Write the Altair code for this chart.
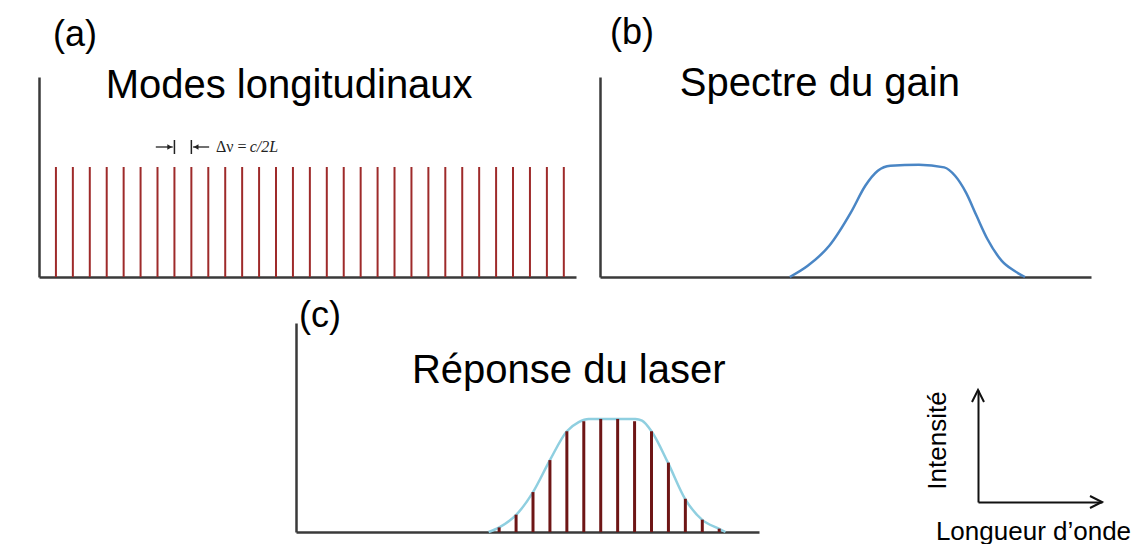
import altair as alt
import pandas as pd

FONT = "Liberation Sans"

# ---------- data ----------
# (a) longitudinal modes: position (mode spacing units) and intensity
modes_a_x = [1, 2, 3, 4, 5, 6, 7, 8, 9, 10, 11, 12, 13, 14, 15, 16,
             17, 18, 19, 20, 21, 22, 23, 24, 25, 26, 27, 28, 29, 30, 31]
modes_a_h = [0.55, 0.55, 0.55, 0.55, 0.55, 0.55, 0.55, 0.55, 0.55, 0.55,
             0.55, 0.55, 0.55, 0.55, 0.55, 0.55, 0.55, 0.55, 0.55, 0.55,
             0.55, 0.55, 0.55, 0.55, 0.55, 0.55, 0.55, 0.55, 0.55, 0.55, 0.55]

# (b) gain spectrum
gain_x = [11.21, 12.27, 13.54, 14.82, 15.67, 16.41, 17.15, 18.84,
          20.33, 20.97, 21.61, 22.24, 22.88, 23.73, 24.47, 25.10]
gain_y = [0.0, 0.056, 0.156, 0.323, 0.456, 0.531, 0.556, 0.561,
          0.548, 0.506, 0.423, 0.306, 0.190, 0.081, 0.031, 0.0]

# (c) laser response: modes under the gain envelope
laser_x = [12, 13, 14, 15, 16, 17, 18, 19, 20, 21, 22, 23, 24, 25]
laser_h = [0.022, 0.083, 0.191, 0.344, 0.482, 0.530, 0.541,
           0.541, 0.530, 0.482, 0.332, 0.159, 0.059, 0.016]
env_x = [11.38, 12.01, 13.02, 14.0, 15.0, 16.0, 16.70, 17.29,
         20.05, 20.44, 21.0, 21.97, 22.98, 23.98, 24.97, 25.37]
env_y = [0.0, 0.0225, 0.083, 0.191, 0.344, 0.482, 0.526, 0.541,
         0.541, 0.533, 0.482, 0.332, 0.159, 0.059, 0.016, 0.0]

panel_labels = ["(a)", "(b)", "(c)"]
panel_titles = ["Modes longitudinaux", "Spectre du gain", "Réponse du laser"]
legend_titles = ["Intensité", "Longueur d’onde"]

# ---------- helpers ----------
AX = alt.Axis(domain=True, labels=False, ticks=False, grid=False, title=None,
              domainColor="#3a3a3a", domainWidth=2.5)
TFS = 40
LFS = 36


def xs(maxv):
    return alt.X("x:Q", scale=alt.Scale(domain=[0, maxv], nice=False, zero=False), axis=AX)


def ys():
    return alt.Y("y:Q", scale=alt.Scale(domain=[0, 1], nice=False), axis=AX)


def spacer(w, h):
    return alt.Chart(pd.DataFrame({"t": [""]})).mark_text().encode(
        text="t:N").properties(width=w, height=h)


def ttl(label, dx, offset):
    return alt.TitleParams(label, anchor="start", dx=dx, offset=offset, fontSize=LFS,
                           font=FONT, fontWeight="normal", color="black",
                           baseline="alphabetic")


# ---------- panel (a) ----------
XA = 31.72
da = pd.DataFrame({"x": modes_a_x, "y": modes_a_h, "y0": [0] * len(modes_a_x)})
a_lines = alt.Chart(da).mark_rule(color="#9e2a2a", strokeWidth=2).encode(
    x=xs(XA), y=ys(), y2="y0:Q")
a_text = alt.Chart(pd.DataFrame({"x": [3.94], "y": [0.893], "t": [panel_titles[0]]})).mark_text(
    align="left", baseline="alphabetic", fontSize=TFS, font=FONT, color="black").encode(
    x=xs(XA), y=ys(), text="t:N")
# delta-nu annotation
mark_df = pd.DataFrame({"x": [8, 9], "y": [0.685, 0.685], "y2": [0.615, 0.615]})
a_marks = alt.Chart(mark_df).mark_rule(color="#222", strokeWidth=1.5).encode(
    x=xs(XA), y=ys(), y2="y2:Q")
shaft_df = pd.DataFrame({"x": [6.9, 9.1], "x2": [7.9, 10.05], "y": [0.65, 0.65]})
a_shafts = alt.Chart(shaft_df).mark_rule(color="#222", strokeWidth=1.3).encode(
    x=xs(XA), x2="x2:Q", y=ys())
a_headR = alt.Chart(pd.DataFrame({"x": [7.72], "y": [0.65]})).mark_point(
    shape="triangle-right", size=30, filled=True, color="#222", opacity=1).encode(x=xs(XA), y=ys())
a_headL = alt.Chart(pd.DataFrame({"x": [9.28], "y": [0.65]})).mark_point(
    shape="triangle-left", size=30, filled=True, color="#222", opacity=1).encode(x=xs(XA), y=ys())
a_dn = alt.Chart(pd.DataFrame({"x": [10.45], "y": [0.65], "t": ["Δν ="]})).mark_text(
    align="left", baseline="middle", fontSize=16, font="Liberation Serif", color="#222").encode(
    x=xs(XA), y=ys(), text="t:N")
a_dn2 = alt.Chart(pd.DataFrame({"x": [12.45], "y": [0.65], "t": ["c/2L"]})).mark_text(
    align="left", baseline="middle", fontSize=16, font="Liberation Serif", fontStyle="italic",
    color="#222").encode(x=xs(XA), y=ys(), text="t:N")
panel_a = alt.layer(a_lines, a_text, a_marks, a_shafts, a_headR, a_headL, a_dn, a_dn2).properties(
    width=537, height=200, title=ttl(panel_labels[0], 14, -16))

# ---------- panel (b) ----------
XB = 29.0
db = pd.DataFrame({"x": gain_x, "y": gain_y})
b_curve = alt.Chart(db).mark_line(color="#4a86c5", strokeWidth=2.5, interpolate="monotone").encode(
    x=xs(XB), y=ys())
b_text = alt.Chart(pd.DataFrame({"x": [4.71], "y": [0.9075], "t": [panel_titles[1]]})).mark_text(
    align="left", baseline="alphabetic", fontSize=TFS, font=FONT, color="black").encode(
    x=xs(XB), y=ys(), text="t:N")
panel_b = alt.layer(b_curve, b_text).properties(
    width=491, height=200, title=ttl(panel_labels[1], 10, -16))

# ---------- panel (c) ----------
XC = 27.35
dc = pd.DataFrame({"x": laser_x, "y": laser_h, "y0": [0] * len(laser_x)})
de = pd.DataFrame({"x": env_x, "y": env_y})
c_env = alt.Chart(de).mark_line(color="#8fcfe0", strokeWidth=2.5, interpolate="monotone").encode(
    x=xs(XC), y=ys())
c_lines = alt.Chart(dc).mark_rule(color="#6e1616", strokeWidth=3).encode(
    x=xs(XC), y=ys(), y2="y0:Q")
c_text = alt.Chart(pd.DataFrame({"x": [6.85], "y": [0.713], "t": [panel_titles[2]]})).mark_text(
    align="left", baseline="alphabetic", fontSize=TFS, font=FONT, color="black").encode(
    x=xs(XC), y=ys(), text="t:N")
panel_c = alt.layer(c_env, c_lines, c_text).properties(
    width=463, height=209, title=ttl(panel_labels[2], 3, -40))

# ---------- legend axes ----------
LAX = dict(domain=True, labels=False, ticks=False, grid=False, domainColor="#111",
           domainWidth=2, titleFont=FONT, titleFontSize=26, titleFontWeight="normal",
           titleColor="black")
lx = alt.X("x:Q", scale=alt.Scale(domain=[0, 1], nice=False),
           axis=alt.Axis(title=legend_titles[1], titlePadding=16, titleX=55, **LAX))
ly = alt.Y("y:Q", scale=alt.Scale(domain=[0, 1], nice=False),
           axis=alt.Axis(title=legend_titles[0], titlePadding=28, titleY=50, **LAX))
up = alt.Chart(pd.DataFrame({"x": [0], "y": [1]})).mark_point(
    shape="M-0.5,1L0,0L0.5,1", size=576, filled=False, color="#111", strokeWidth=2,
    opacity=1).encode(x=lx, y=ly)
right = alt.Chart(pd.DataFrame({"x": [1], "y": [0]})).mark_point(
    shape="M-1,-0.5L0,0L-1,0.5", size=576, filled=False, color="#111", strokeWidth=2,
    opacity=1).encode(x=lx, y=ly)
legend = alt.layer(up, right).properties(width=124, height=112)
legend_col = alt.vconcat(spacer(1, 63), legend, spacing=0)

row1 = alt.hconcat(spacer(31, 200), panel_a, spacer(24, 200), panel_b, spacing=0)
row2 = alt.hconcat(spacer(288, 209), panel_c, spacer(165, 209), legend_col, spacing=0)

chart = alt.vconcat(row1, row2, spacing=16).properties(
    padding={"top": 6, "left": 0, "right": 0, "bottom": 0}
).configure(background="white").configure_view(strokeWidth=0, strokeOpacity=0)

chart.save("out.html", embed_options={"renderer": "svg", "actions": False})
